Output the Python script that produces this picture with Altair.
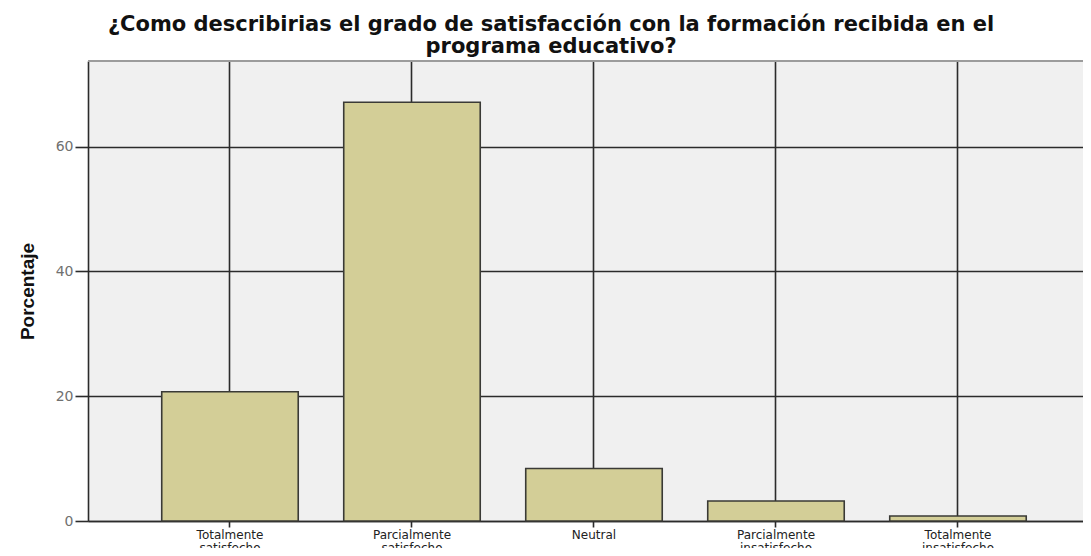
import altair as alt
import pandas as pd

categories = [
    "Totalmente satisfecho",
    "Parcialmente satisfecho",
    "Neutral",
    "Parcialmente insatisfecho",
    "Totalmente insatisfecho",
]
percentages = [20.7, 67.1, 8.4, 3.2, 0.8]
y_ticks = [0, 20, 40, 60]
y_max = 73.7

title_lines = [
    "¿Como describirias el grado de satisfacción con la formación recibida en el",
    "programa educativo?",
]

df = pd.DataFrame({"categoria": categories, "porcentaje": percentages})

dark = "#2b2b2b"

bars = alt.Chart(df).mark_bar(
    color="#d3ce97", stroke="#3a3a36", strokeWidth=1.6
).encode(
    x=alt.X(
        "categoria:N",
        sort=categories,
        title=None,
        scale=alt.Scale(paddingInner=0.25, paddingOuter=0.3585, align=0.565),
        axis=alt.Axis(
            grid=True,
            gridColor=dark,
            gridWidth=1.6,
            bandPosition=0.5,
            domainColor=dark,
            domainWidth=1.6,
            tickColor=dark,
            tickWidth=1.6,
            tickSize=6,
            labelAngle=0,
            labelFont="DejaVu Sans",
            labelFontSize=12,
            labelColor="#222222",
            labelPadding=2,
            labelLineHeight=13,
            labelExpr="split(datum.label, ' ')",
        ),
    ),
    y=alt.Y(
        "porcentaje:Q",
        title="Porcentaje",
        scale=alt.Scale(domain=[0, y_max], nice=False),
        axis=alt.Axis(
            values=y_ticks,
            grid=True,
            gridColor=dark,
            gridWidth=1.6,
            domainColor=dark,
            domainWidth=1.6,
            tickColor=dark,
            tickWidth=1.6,
            tickSize=13,
            labelFont="DejaVu Sans",
            labelFontSize=14,
            labelColor="#707070",
            labelPadding=2,
            titleFont="Liberation Sans",
            titleFontSize=19,
            titleFontWeight="bold",
            titleColor="#111111",
            titlePadding=18,
        ),
    ),
)

top_rule = alt.Chart(df).mark_rule(color="#9c9c9c", strokeWidth=2).encode(
    y=alt.datum(y_max)
)

chart = alt.layer(bars, top_rule).properties(
    width=995,
    height=460,
    padding={"left": 80, "top": 53, "right": 0, "bottom": 27},
    autosize=alt.AutoSizeParams(type="none"),
    background="white",
    title=alt.TitleParams(
        text=title_lines,
        font="DejaVu Sans",
        fontSize=21,
        fontWeight="bold",
        color="#111111",
        anchor="middle",
        frame="bounds",
        lineHeight=22,
        offset=3,
    ),
).configure_view(
    fill="#f0f0f0", stroke="transparent"
)

chart.save("out.html", embed_options={"renderer": "svg", "actions": False})
